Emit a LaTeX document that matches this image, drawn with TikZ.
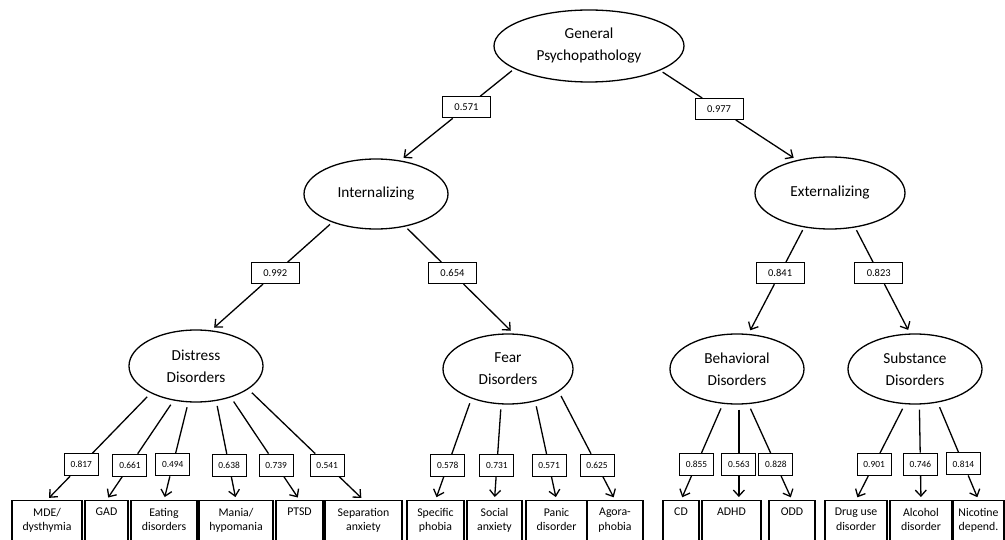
\documentclass[tikz,border=0pt]{standalone}
\usepackage{fontspec}
\setmainfont{Carlito}
\usetikzlibrary{arrows.meta,shapes.geometric,calc}
\begin{document}
\begin{tikzpicture}[x=1pt,y=-1pt,
  latent/.style={ellipse,draw,line width=1.3pt,inner sep=0pt,align=center,font=\fontsize{15.3}{22}\selectfont},
  load/.style={rectangle,draw,line width=1pt,fill=white,inner sep=0pt,minimum width=48pt,minimum height=21pt,font=\fontsize{10.5}{12}\selectfont},
  loadsm/.style={load,minimum width=34pt,minimum height=22pt,font=\fontsize{9.4}{11}\selectfont},
  leaf/.style={rectangle,draw,line width=1.1pt,anchor=north,minimum height=60pt,inner sep=0pt},
  lt/.style={anchor=north,align=center,inner sep=0pt,yshift=-8pt,font=\fontsize{11.8}{14.5}\selectfont},
  conn/.style={line width=1.3pt,shorten <=3pt},
  connb/.style={line width=1.3pt,shorten <=5pt},
  arr/.style={line width=1.3pt,-{Straight Barb[length=6pt,width=11pt]},shorten >=4pt},
  arrb/.style={line width=1.3pt,-{Straight Barb[length=6pt,width=11pt]},shorten >=3pt},
]
\useasboundingbox (0,0) rectangle (1005,540);
\clip (0,0) rectangle (1005,540);
\fill[white] (0,0) rectangle (1005,540);

% latent variables
\node[latent,minimum width=190pt,minimum height=72pt] (gp) at (589,46) {General\\Psychopathology};
\node[latent,minimum width=144pt,minimum height=70pt] (int) at (376,194) {Internalizing};
\node[latent,minimum width=150pt,minimum height=72pt] (ext) at (830,193) {Externalizing};
\node[latent,minimum width=134pt,minimum height=72pt] (dist) at (196,366) {Distress\\Disorders};
\node[latent,minimum width=130pt,minimum height=70pt] (fear) at (508,369) {Fear\\Disorders};
\node[latent,minimum width=134pt,minimum height=70pt] (beh) at (737,369) {Behavioral\\Disorders};
\node[latent,minimum width=134pt,minimum height=70pt] (sub) at (915,369) {Substance\\Disorders};

% observed disorders
\node[leaf,minimum width=70pt,label={[lt]north:{MDE/\\dysthymia}}] (mde) at (47,500) {};
\node[leaf,minimum width=43pt,label={[lt]north:{GAD}}] (gad) at (106.5,500) {};
\node[leaf,minimum width=66pt,label={[lt]north:{Eating\\disorders}}] (eat) at (164,500) {};
\node[leaf,minimum width=74pt,label={[lt]north:{Mania/\\hypomania}}] (man) at (236,500) {};
\node[leaf,minimum width=47pt,label={[lt]north:{PTSD}}] (ptsd) at (299.5,500) {};
\node[leaf,minimum width=77pt,label={[lt]north:{Separation\\anxiety}}] (sep) at (363.5,500) {};
\node[leaf,minimum width=57pt,label={[lt]north:{Specific\\phobia}}] (spec) at (435.5,500) {};
\node[leaf,minimum width=55pt,label={[lt]north:{Social\\anxiety}}] (soc) at (494.5,500) {};
\node[leaf,minimum width=61pt,label={[lt]north:{Panic\\disorder}}] (pan) at (556.5,500) {};
\node[leaf,minimum width=56pt,label={[lt]north:{Agora-\\phobia}}] (ago) at (615,500) {};
\node[leaf,minimum width=36pt,label={[lt]north:{CD}}] (cd) at (681,500) {};
\node[leaf,minimum width=59pt,label={[lt]north:{ADHD}}] (adhd) at (731.5,500) {};
\node[leaf,minimum width=46pt,label={[lt]north:{ODD}}] (odd) at (792,500) {};
\node[leaf,minimum width=62pt,label={[lt]north:{Drug use\\disorder}}] (drug) at (856,500) {};
\node[leaf,minimum width=62pt,label={[lt]north:{Alcohol\\disorder}}] (alc) at (921,500) {};
\node[leaf,minimum width=51pt,label={[lt]north:{Nicotine\\depend.}}] (nic) at (978.5,500) {};

% upper paths
\path (gp.197.7) -- (int.54.6) node[load,pos=.42] (l1) {0.571};
\draw[conn] (gp.197.7) -- (l1); \draw[arr] (l1) -- (int.54.6);
\path (gp.341) -- (ext.135.8) node[load,pos=.43] (l2) {0.977};
\draw[conn] (gp.341) -- (l2); \draw[arr] (l2) -- (ext.135.8);
\path (int.213.7) -- (dist.67.7) node[load,pos=.47] (l3) {0.992};
\draw[conn] (int.213.7) -- (l3); \draw[arr] (l3) -- (dist.67.7);
\path (int.312.4) -- (fear.81) node[load,pos=.435] (l4) {0.654};
\draw[conn] (int.312.4) -- (l4); \draw[arr] (l4) -- (fear.81);
\path (ext.233.1) -- (beh.72) node[load,pos=.43] (l5) {0.841};
\draw[conn] (ext.233.1) -- (l5); \draw[arr] (l5) -- (beh.72);
\path (ext.306.9) -- (sub.98.5) node[load,pos=.43] (l6) {0.823};
\draw[conn] (ext.306.9) -- (l6); \draw[arr] (l6) -- (sub.98.5);

% distress
\path (dist.211.8) -- (mde.north) node[loadsm,pos=.67] (m1) {0.817};
\draw[connb] (dist.211.8) -- (m1); \draw[arrb] (m1) -- (mde.north);
\path (dist.237.7) -- (gad.north) node[loadsm,pos=.65] (m2) {0.661};
\draw[connb] (dist.237.7) -- (m2); \draw[arrb] (m2) -- (gad.north);
\path (dist.258.4) -- (eat.north) node[loadsm,pos=.64] (m3) {0.494};
\draw[connb] (dist.258.4) -- (m3); \draw[arrb] (m3) -- (eat.north);
\path (dist.300) -- (man.north) node[loadsm,pos=.65] (m4) {0.638};
\draw[connb] (dist.300) -- (m4); \draw[arrb] (m4) -- (man.north);
\path (dist.318) -- (ptsd.north) node[loadsm,pos=.66] (m5) {0.739};
\draw[connb] (dist.318) -- (m5); \draw[arrb] (m5) -- (ptsd.north);
\path (dist.336) -- (sep.north) node[loadsm,pos=.685] (m6) {0.541};
\draw[connb] (dist.336) -- (m6); \draw[arrb] (m6) -- (sep.north);

% fear
\path (fear.219) -- (spec.north) node[loadsm,pos=.66] (f1) {0.578};
\draw[connb] (fear.219) -- (f1); \draw[arrb] (f1) -- (spec.north);
\path (fear.259.6) -- (soc.north) node[loadsm,pos=.64] (f2) {0.731};
\draw[connb] (fear.259.6) -- (f2); \draw[arrb] (f2) -- (soc.north);
\path (fear.310.5) -- (pan.north) node[loadsm,pos=.65] (f3) {0.571};
\draw[connb] (fear.310.5) -- (f3); \draw[arrb] (f3) -- (pan.north);
\path (fear.336) -- (ago.north) node[loadsm,pos=.68] (f4) {0.625};
\draw[connb] (fear.336) -- (f4); \draw[arrb] (f4) -- (ago.north);

% behavioral
\path (beh.248.5) -- (cd.north) node[loadsm,pos=.63] (b1) {0.855};
\draw[connb] (beh.248.5) -- (b1); \draw[arrb] (b1) -- (cd.north);
\path (beh.273) -- (beh.273 |- adhd.north) node[loadsm,pos=.625] (b2) {0.563};
\draw[connb] (beh.273) -- (b2); \draw[arrb] (b2) -- (b2 |- adhd.north);
\path (beh.288.9) -- (odd.north) node[loadsm,pos=.63] (b3) {0.828};
\draw[connb] (beh.288.9) -- (b3); \draw[arrb] (b3) -- (odd.north);

% substance
\path (sub.254.7) -- (drug.north) node[loadsm,pos=.63] (s1) {0.901};
\draw[connb] (sub.254.7) -- (s1); \draw[arrb] (s1) -- (drug.north);
\path (sub.277.5) -- (alc.north) node[loadsm,pos=.625] (s2) {0.746};
\draw[connb] (sub.277.5) -- (s2); \draw[arrb] (s2) -- (alc.north);
\path (sub.304.4) -- (nic.north) node[loadsm,pos=.63] (s3) {0.814};
\draw[connb] (sub.304.4) -- (s3); \draw[arrb] (s3) -- (nic.north);
\end{tikzpicture}
\end{document}
